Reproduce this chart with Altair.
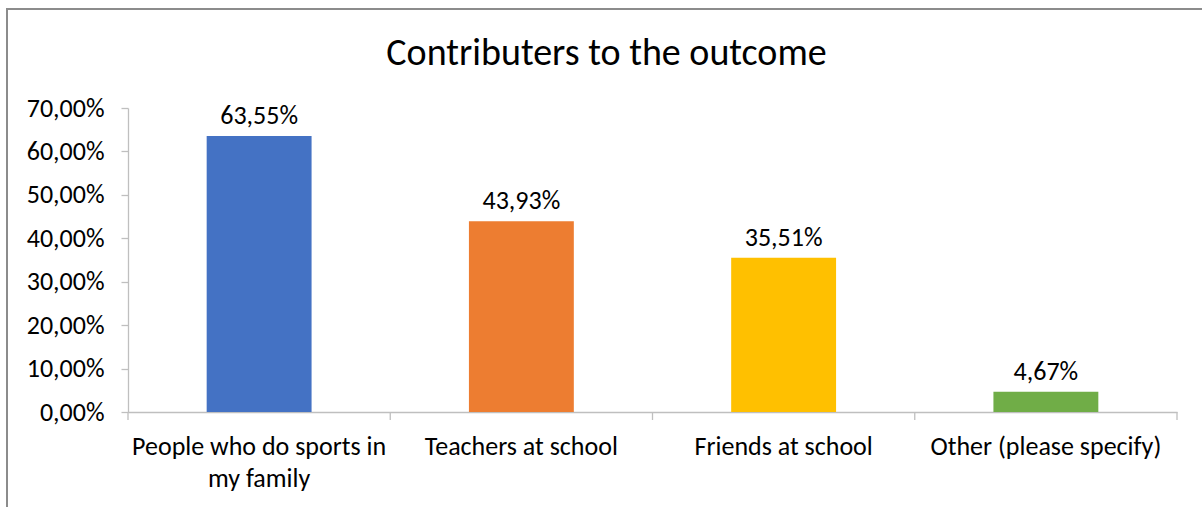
import altair as alt
import pandas as pd

categories = ["People who do sports in my family", "Teachers at school", "Friends at school", "Other (please specify)"]
values = [0.6355, 0.4393, 0.3551, 0.0467]
colors = ["#4472C4", "#ED7D31", "#FFC000", "#70AD47"]

df = pd.DataFrame({"cat": categories, "val": values})

FONT = "Carlito, Lato, sans-serif"
FS = 26
W, H = 1049, 304

x_enc = alt.X("cat:N", sort=categories,
              scale=alt.Scale(paddingInner=0, paddingOuter=0),
              axis=alt.Axis(title=None, labelAngle=0, ticks=False, domain=True,
                            domainColor="#BFBFBF", domainWidth=1.3,
                            labelFont=FONT, labelFontSize=FS, labelColor="#000000",
                            labelPadding=21, labelLineHeight=32, labelLimit=400,
                            labelBaseline="top",
                            labelExpr="datum.label == 'People who do sports in my family' ? ['People who do sports in', 'my family'] : datum.label"))

bars = alt.Chart(df).mark_bar(width=alt.RelativeBandSize(0.4)).encode(
    x=x_enc,
    y=alt.Y("val:Q", scale=alt.Scale(domain=[0, 0.7], nice=False),
            axis=alt.Axis(title=None, format=".2%", values=[0, 0.1, 0.2, 0.3, 0.4, 0.5, 0.6, 0.7],
                          grid=False, domainColor="#BFBFBF", domainWidth=1.3,
                          tickColor="#BFBFBF", tickSize=7, tickWidth=1.3,
                          labelFont=FONT, labelFontSize=FS, labelColor="#000000",
                          labelPadding=17, minExtent=123, maxExtent=123)),
    color=alt.Color("cat:N", sort=categories,
                    scale=alt.Scale(domain=categories, range=colors), legend=None),
)

labels = alt.Chart(df).mark_text(baseline="alphabetic", dy=-12, font=FONT, fontSize=FS,
                                 color="#000000").encode(
    x=alt.X("cat:N", sort=categories),
    y="val:Q",
    text=alt.Text("val:Q", format=".2%"),
)

ticks = alt.Chart(df).mark_rule(color="#BFBFBF", strokeWidth=1.3).encode(
    x=alt.X("cat:N", sort=categories, bandPosition=0),
    y=alt.value(H),
    y2=alt.value(H + 8),
)
last_tick = alt.Chart(df).transform_filter(
    alt.datum.cat == categories[-1]
).mark_rule(color="#BFBFBF", strokeWidth=1.3).encode(
    x=alt.X("cat:N", sort=categories, bandPosition=1),
    y=alt.value(H),
    y2=alt.value(H + 8),
)

border = alt.Chart(pd.DataFrame({"b": [1]})).mark_rect(
    filled=False, stroke="#8C8C8C", strokeWidth=2).encode(
    x=alt.value(-121), x2=alt.value(W + 60),
    y=alt.value(-99), y2=alt.value(H + 150),
)

chart = alt.layer(border, bars, labels, ticks, last_tick).properties(
    width=W, height=H,
    autosize=alt.AutoSizeParams(type="none"),
    padding={"left": 128, "top": 108, "right": 25, "bottom": 95},
    view=alt.ViewBackground(strokeWidth=0, strokeOpacity=0),
    title=alt.Title("Contributers to the outcome", font=FONT, fontSize=38,
                    fontWeight="normal", color="#000000", anchor="middle",
                    dx=-46, dy=40, offset=-55, baseline="alphabetic"),
).configure_view(strokeOpacity=0, strokeWidth=0).configure(
    locale={"number": {"decimal": ",", "thousands": ".", "grouping": [3],
                       "currency": ["", " €"]}}
)

chart.save("out.html", embed_options={"renderer": "svg", "actions": False})
